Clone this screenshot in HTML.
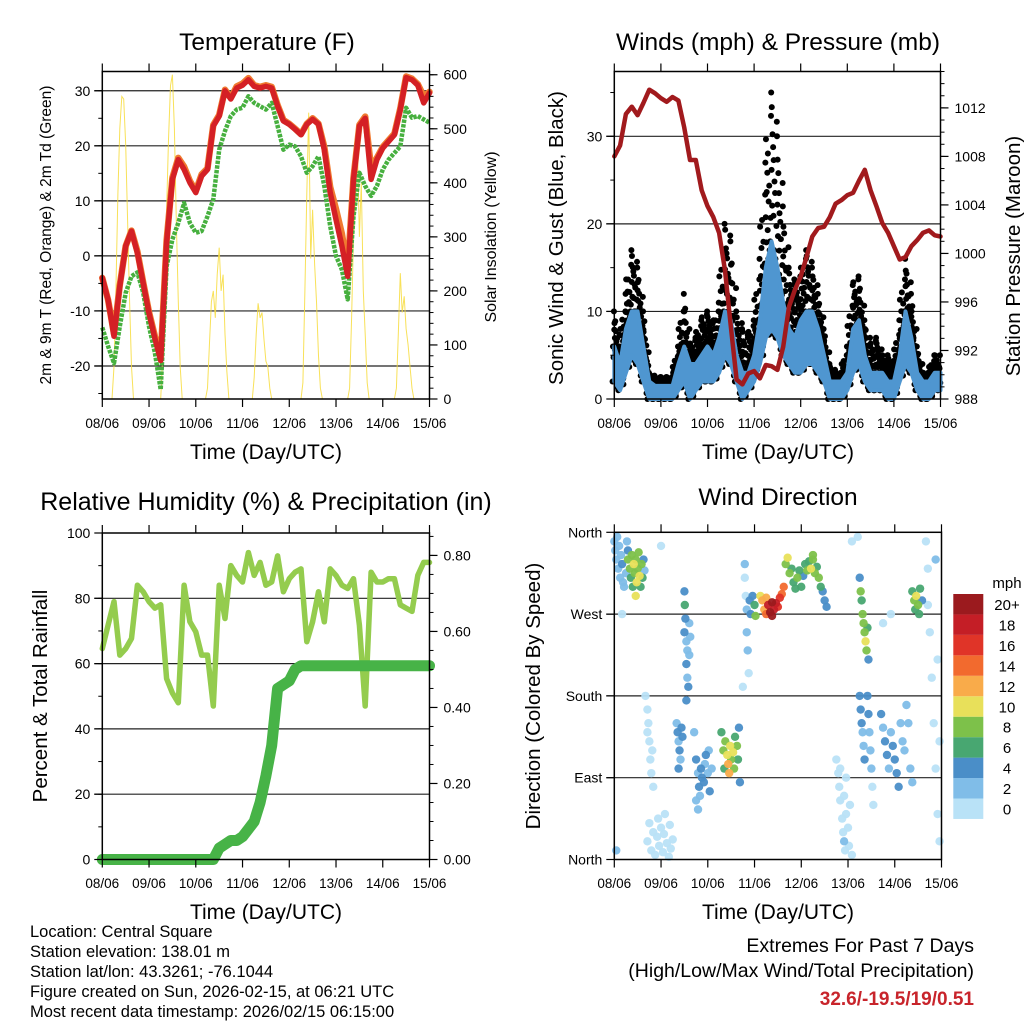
<!DOCTYPE html>
<html><head><meta charset="utf-8"><style>
html,body{margin:0;padding:0;background:#fff;}
svg{display:block;font-family:"Liberation Sans",Arial,sans-serif;}
</style></head><body>
<svg id="chart" width="1024" height="1024" viewBox="0 0 1024 1024" xmlns="http://www.w3.org/2000/svg">
<rect x="0" y="0" width="1024" height="1024" fill="#fff"/>
</svg>
<script>
// ---------- DATA (3-hourly samples, hours 0..168) ----------
const hours3 = [0,3,6,9,12,15,18,21,24,27,30,33,36,39,42,45,48,51,54,57,60,63,66,69,72,75,78,81,84,87,90,93,96,99,102,105,108,111,114,117,120,123,126,129,132,135,138,141,144,147,150,153,156,159,162,165,168];
const dayLabels = ["08/06","09/06","10/06","11/06","12/06","13/06","14/06","15/06"];
const tempRed = [-4,-8,-14.6,-5.5,1.8,4.5,0.5,-5,-10.4,-15,-19,2.4,13.9,17.5,15.7,13.3,11.5,14.5,15.7,23.6,25.4,30,28.5,30.5,31,32,30.8,30.5,30.8,30.5,27.2,24.5,23.9,23,22,23.9,24.8,23.9,19.3,11.5,6.6,1.8,-3.7,13.9,23.6,25,13.9,17.5,19.6,20.8,22,26.6,32.4,32,31,27.8,29.6];
const tempOrange = [-4,-8,-14.2,-5.3,1.8,4.6,0.8,-4.8,-10.2,-14.6,-18.5,2.8,14.2,17.8,16.2,13.6,11.8,14.8,15.9,23.8,25.6,30.2,28.7,30.8,31.3,32.3,31,30.7,31,30.7,27.4,24.7,24,23.1,22.1,24,25,24,19.8,12.5,8.5,4,-2.5,14.2,23.8,25.3,16,17.8,19.8,21,22.2,26.8,32.6,32.2,31.2,29,29.8];
const dewGreen = [-13,-16.4,-19.5,-12.8,-6.7,-3.7,-3,-6.7,-12.8,-17.6,-24.3,-1.9,3,6,9.6,6,4.2,4.5,7.2,10.3,19.3,22.7,25.4,26.6,26.9,29,27.8,27.2,26.6,27.8,23.6,19.3,20.2,19.9,18.1,15.1,16.3,18.1,12.7,5.4,0,-2.5,-7.9,7.2,15.1,12.7,10.9,12.7,15.7,17.5,18.7,19.9,26.9,25.1,25.4,24.8,24.2];
const solarHours = [0,5,6,7,8,9,10,11,12,13,14,15,16,30,31,32,33,34,35,36,37,38,39,40,41,53,54,55,56,57,58,59,60,61,62,63,64,65,77,78,79,80,81,82,83,84,85,86,87,102,103,104,105,106,107,108,109,110,111,112,113,126,127,128,129,130,131,132,133,134,135,136,137,150,151,152,153,154,155,156,157,158,159,160,168];
const solarValues = [0,0,60,200,380,500,560,555,470,330,180,60,0,0,80,200,350,480,580,600,500,330,180,60,0,0,20,100,180,200,150,230,280,200,230,120,50,0,0,40,120,177,150,160,110,70,60,20,0,0,30,200,380,530,260,350,250,180,80,20,0,0,20,150,300,370,470,300,400,200,120,30,0,0,20,120,233,160,190,130,100,60,20,0,0];
const pressure = [1008,1008.9,1011.5,1012.1,1011.4,1012.4,1013.5,1013.2,1012.8,1012.5,1012.9,1012.6,1010.4,1007.7,1007.7,1005.2,1003.9,1003,1001.7,998.6,994,989.6,989.2,990.1,990.3,989.7,990.8,990.7,990.4,992.3,995.6,997,998.1,999.7,1001.4,1002.1,1002.2,1003,1004.1,1004.4,1004.8,1005,1006,1006.9,1005.2,1003.9,1002.5,1001.7,1000.6,999.5,999.7,1000.6,1001.1,1001.7,1001.9,1001.5,1001.4];
const windLo = [2,1,3,5,4,2,0,0,0,0,0,1,2,0,1,2,2,2,3,5,4,2,0,1,2,4,7,8,7,5,4,3,3,4,4,3,2,0,0,0,1,3,4,2,1,1,1,0,0,2,4,3,1,0,0,1,1];
const windHi = [6,4,8,10,10,6,2,1.5,1.5,1.5,1.5,4,6,4,4,5,6,5,7,10,9,5,3,3,5,9,15,18,15,11,8,7,9,10,10,8,5,2,2,2,3,8,9,5,3,3,3,2,2,5,10,7,3,2,2,3,3];
const gustHi = [10,6,12,17,15,10,3,2.5,2.5,2.5,2.5,6,12,6,7,9,10,8,11,20,18,10,8,7,9,16,27,35,30,22,15,13,14,17,15,12,8,4,3,3,6,13,14,9,6,7,5,5,4,9,16,12,6,3,3,5,5];
const relHum = [64.6,71.8,79,62.6,64.6,67.7,84,82,79,77,78,55.4,51,48,84,72.8,69.7,62.6,62.6,47,84,73.8,90,87,85,94,87,91,84,85,93,82,86,88,89,66.7,72.8,82,72.8,89,87,84,83,86,71.8,47,88,85,85,86,86,78,77,76,87,91,91];
const precip = [0,0,0,0,0,0,0,0,0,0,0,0,0,0,0,0,0,0,0,0,0.03,0.04,0.05,0.05,0.06,0.08,0.10,0.15,0.22,0.30,0.45,0.46,0.47,0.50,0.51,0.51,0.51,0.51,0.51,0.51,0.51,0.51,0.51,0.51,0.51,0.51,0.51,0.51,0.51,0.51,0.51,0.51,0.51,0.51,0.51,0.51,0.51];
const dirHour = [0,0.5,1,1.5,2,2.5,3,3.5,4,4.5,5,6,6.5,7, 7,8,8.5,9,9.5,10,10.5,11,11.5,12,12.5,13,13.5,14,14.5,15,15.5,11, 17,18,19,20,21,22,22.5,23,24,25,25.5,26,27,28,28.5,29,30, 16,17,17.5,18,18.5,19,19.5,20,17, 36,36.2,36.5,36,37,37.5,37,37.5,38,37,38.5,39,38.5, 32,32.5,33,33.5,34,34.5,33,35, 41,42,43,43.5,44,44.5,45,46,46.5,47,48,48.5,49,50,42,43, 55,56,56.5,57,58,58.5,59,59.5,60,61,61.5,62,63,63.5,64,64.5, 67,67,67.5,68,68,68.5,69, 69.5,70,71,72,72.5, 75,76,77,78,79,80,81,82,83,84,85,86,87,78,81, 88,89,90,91,92,93,94,95,96,97,98,99,100,101,102,103,104,105,106,107,108,109,102, 114,115,115.5,116,117,117.5,118,118.5,119,120,120.5,121,122,116,119,118, 126,126.5,127,127.5,128,128.5,129,129.5,130,130.5, 126,126.5,127,127.5,128,128.5,130,130.5,131,131.5,132,132.5,133, 137,138,139,140,141,142,143,144,145,146,147,148,149,150,151,152,153, 153,154,154.5,155,156,156.5,157,158, 160,161,162,163,164,165,166,167,161,165,166,167, 1,24,4,66,122,142,138,125];
const dirDeg = [350,340,330,355,320,345,310,335,325,305,300,315,350,340, 330,320,310,335,300,325,315,330,305,320,338,312,300,325,310,330,318,290, 20,40,10,30,5,25,45,15,35,8,28,50,18,3,38,12,22, 180,165,150,130,110,95,120,80,140, 295,280,265,250,240,230,215,200,190,175,260,245,225, 150,140,130,120,110,145,100,135, 140,110,95,80,70,100,90,85,105,115,95,120,75,100,65,55, 140,120,100,130,115,105,95,125,110,118,100,135,125,110,145,85, 325,310,290,275,250,230,205, 285,270,290,280,268, 290,285,275,270,280,272,268,275,282,278,288,292,300,288,283, 325,332,315,320,305,298,310,318,300,312,325,318,328,320,330,315,322,310,300,295,285,278,335, 110,95,80,65,45,30,20,10,50,35,15,60,5,100,90,70, 310,295,285,270,260,250,240,230,255,220, 180,165,150,140,125,110,180,160,140,120,100,80,60, 160,145,130,115,100,140,125,110,95,80,150,130,120,170,150,100,85, 295,285,275,290,280,270,298,285, 350,320,250,200,150,100,50,20,280,330,220,130, 10,345,270,190,350,270,260,355];
const dirSpeed = [3,2,3,2,2,3,3,2,4,2,2,3,2,4, 8,8,6,8,7,10,8,8,10,8,8,10,6,8,7,4,3,10, 0,1,0,0,0,1,0,0,1,0,0,0,1,0,0,0,0, 0,1,0,0,1,0,0,1,0, 4,6,4,5,3,2,4,3,4,4,2,2,3, 3,4,3,4,3,4,4,5, 3,4,3,4,3,4,5,4,3,4,2,3,4,3,2,2, 6,8,6,8,10,12,12,10,8,10,8,6,8,6,4,4, 2,1,1,2,2,2,1, 4,4,4,6,8, 10,12,12,14,18,20,20,18,18,16,16,14,14,12,20, 8,10,8,6,6,6,8,6,6,4,6,8,6,10,8,8,6,8,6,4,4,4,8, 1,0,0,0,1,0,2,0,0,1,0,0,0,0,1,0, 4,8,6,8,8,8,10,8,6,4, 4,4,4,2,2,4,4,4,2,2,2,1,1, 4,2,4,4,2,2,4,4,4,4,2,2,2,2,2,2,2, 6,8,6,10,8,6,6,4, 0,1,0,1,0,0,0,0,0,2,0,1, 3,0,0,0,0,1,0,0];
const speedColors = ["#b9e2f7","#80bde8","#4a8ec8","#48a771","#7dc14a","#e8e05a","#f9ab4a","#f26a2e","#e03428","#c41e26","#9b1a1e"];
const speedLabels = ["0","2","4","6","8","10","12","14","16","18","20+"];

// ---------- HELPERS ----------
const NS = "http://www.w3.org/2000/svg";
const svg = document.getElementById('chart');
function mk(tag, attrs, parent) {
  const e = document.createElementNS(NS, tag);
  for (const k in attrs) e.setAttribute(k, attrs[k]);
  (parent || svg).appendChild(e);
  return e;
}
function txt(str, x, y, size, anchor, parent, extra) {
  const t = mk('text', Object.assign({x: x, y: y, 'font-size': size, 'text-anchor': anchor || 'middle', fill: '#000'}, extra || {}), parent);
  t.textContent = str;
  return t;
}
function panel(x0, x1, y0, y1, yl0, yl1, yr0, yr1) {
  return {x0, x1, y0, y1,
    sx: h => x0 + h / 168 * (x1 - x0),
    sy: v => y1 - (v - yl0) / (yl1 - yl0) * (y1 - y0),
    sr: v => y1 - (v - yr0) / (yr1 - yr0) * (y1 - y0)};
}
function pts(p, xs, ys, scale) { return xs.map((h, i) => p.sx(h).toFixed(1) + ',' + scale(ys[i]).toFixed(1)).join(' '); }

function frameAndAxes(p, name, opts) {
  const g = mk('g', {});
  
  
  opts.grid.forEach(v => {
    const l = mk('line', {x1: p.x0 - 8, x2: p.x1, y1: p.sy(v), y2: p.sy(v), stroke: '#222', 'stroke-width': 1.2}, g);
    
    
  });
  return g;
}
function drawTicks(p, name, opts, tickY) {
  const g = mk('g', {});
  
  
  mk('rect', {x: p.x0, y: p.y0, width: p.x1 - p.x0, height: p.y1 - p.y0, fill: 'none', stroke: '#000', 'stroke-width': 1.5}, g);
  for (let d = 0; d <= 7; d++) {
    const x = p.sx(d * 24);
    mk('line', {x1: x, x2: x, y1: p.y0, y2: p.y0 - 8, stroke: '#000', 'stroke-width': 1.2}, g);
    mk('line', {x1: x, x2: x, y1: p.y1, y2: p.y1 + 8, stroke: '#000', 'stroke-width': 1.2}, g);
    const t = txt(dayLabels[d], x, tickY, 13.5, 'middle', g);
    
    
  }
  opts.leftMinor.forEach(v => mk('line', {x1: p.x0, x2: p.x0 - 4, y1: p.sy(v), y2: p.sy(v), stroke: '#000', 'stroke-width': 1}, g));
  opts.leftMajor.forEach((v, i) => {
    mk('line', {x1: p.x0, x2: p.x0 - 8, y1: p.sy(v), y2: p.sy(v), stroke: '#000', 'stroke-width': 1.2}, g);
    const t = txt(opts.leftLabels[i], p.x0 - 12, p.sy(v) + 5, 14, 'end', g);
    
    
  });
  if (opts.rightMajor) {
    opts.rightMinor.forEach(v => mk('line', {x1: p.x1, x2: p.x1 + 4, y1: p.sr(v), y2: p.sr(v), stroke: '#000', 'stroke-width': 1}, g));
    opts.rightMajor.forEach((v, i) => {
      mk('line', {x1: p.x1, x2: p.x1 + 8, y1: p.sr(v), y2: p.sr(v), stroke: '#000', 'stroke-width': 1.2}, g);
      const t = txt(opts.rightLabels[i], p.x1 + 14, p.sr(v) + 5, 14, 'start', g);
      
      
    });
  }
}
function range(a, b, s) { const r = []; for (let v = a; v <= b + 1e-9; v += s) r.push(+v.toFixed(4)); return r; }

// ---------- PANEL 1: TEMPERATURE ----------
const p1 = panel(102.3, 429.5, 71.5, 399, -26, 33.5, 0, 606);
frameAndAxes(p1, 'temperature', {grid: [-20, -10, 0, 10, 20, 30]});
const solarLine = mk('polyline', {points: pts(p1, solarHours, solarValues, p1.sr), fill: 'none', stroke: '#f7dc3c', 'stroke-width': 1, 'stroke-opacity': 0.85});


const orangeLine = mk('polyline', {points: pts(p1, hours3, tempOrange, p1.sy), fill: 'none', stroke: '#f07a30', 'stroke-width': 6.5, 'stroke-linejoin': 'round', 'stroke-linecap': 'round'});


const dewLine = mk('polyline', {points: pts(p1, hours3, dewGreen, p1.sy), fill: 'none', stroke: '#47b03f', 'stroke-width': 4.5, 'stroke-dasharray': '3.5 1.2', 'stroke-linejoin': 'round'});


const redLine = mk('polyline', {points: pts(p1, hours3, tempRed, p1.sy), fill: 'none', stroke: '#d42025', 'stroke-width': 5.5, 'stroke-linejoin': 'round', 'stroke-linecap': 'round'});


drawTicks(p1, 'temperature', {leftMajor: [-20, -10, 0, 10, 20, 30], leftLabels: ["-20","-10","0","10","20","30"], leftMinor: range(-25, 30, 5),
  rightMajor: [0, 100, 200, 300, 400, 500, 600], rightLabels: ["0","100","200","300","400","500","600"], rightMinor: range(0, 600, 20)}, 428);

// ---------- PANEL 2: WINDS ----------
const p2 = panel(614.3, 940.5, 71.5, 399, 0, 37.4, 988, 1015);
frameAndAxes(p2, 'winds', {grid: [10, 20, 30]});
const gustG = mk('g', {fill: '#000'});


const fracs = [0, 0.12, 0.25, 0.38, 0.5, 0.62, 0.74, 0.86, 1];
const offs = [-0.9, 0.7, -0.4, 0.9, -0.7, 0.3, 0, 0.5, -0.2];
for (let i = 0; i < hours3.length - 1; i++) {
  for (let k = 0; k < 3; k++) {
    const t = k / 3;
    const h = hours3[i] + k;
    const lo = windLo[i] + (windLo[i + 1] - windLo[i]) * t;
    const hi = gustHi[i] + (gustHi[i + 1] - gustHi[i]) * t;
    const wh = windHi[i] + (windHi[i + 1] - windHi[i]) * t;
    fracs.forEach((f, j) => {
      const v = f < 0.5 ? lo + (wh + 1.5 - lo) * f * 2 : wh + (hi - wh) * (f - 0.5) * 2;
      const c = mk('circle', {cx: p2.sx(h + offs[(j + k) % offs.length]), cy: p2.sy(v), r: 3}, gustG);
      
      
    });
  }
}
const bandPts = pts(p2, hours3, windHi, p2.sy) + ' ' + pts(p2, hours3.slice().reverse(), windLo.slice().reverse(), p2.sy);
const windBand = mk('polygon', {points: bandPts, fill: '#4f96d0', stroke: '#4f96d0', 'stroke-width': 4, 'stroke-linejoin': 'round'});


const presLine = mk('polyline', {points: pts(p2, hours3, pressure, p2.sr), fill: 'none', stroke: '#a11a1d', 'stroke-width': 4.5, 'stroke-linejoin': 'round', 'stroke-linecap': 'round'});


drawTicks(p2, 'winds', {leftMajor: [0, 10, 20, 30], leftLabels: ["0","10","20","30"], leftMinor: range(0, 35, 5),
  rightMajor: [988, 992, 996, 1000, 1004, 1008, 1012], rightLabels: ["988","992","996","1000","1004","1008","1012"], rightMinor: range(988, 1015, 1)}, 428);

// ---------- PANEL 3: RH & PRECIP ----------
const p3 = panel(102.3, 429.5, 533, 859.5, 0, 100, 0, 0.859);
frameAndAxes(p3, 'humidity', {grid: [20, 40, 60, 80]});
const rhLine = mk('polyline', {points: pts(p3, hours3, relHum, p3.sy), fill: 'none', stroke: '#94cc4e', 'stroke-width': 5.5, 'stroke-linejoin': 'round', 'stroke-linecap': 'round'});


const prLine = mk('polyline', {points: pts(p3, hours3, precip, p3.sr), fill: 'none', stroke: '#47b347', 'stroke-width': 11, 'stroke-linejoin': 'round', 'stroke-linecap': 'round'});


drawTicks(p3, 'humidity', {leftMajor: [0, 20, 40, 60, 80, 100], leftLabels: ["0","20","40","60","80","100"], leftMinor: range(0, 100, 10),
  rightMajor: [0, 0.2, 0.4, 0.6, 0.8], rightLabels: ["0.00","0.20","0.40","0.60","0.80"], rightMinor: range(0, 0.85, 0.05)}, 888);

// ---------- PANEL 4: WIND DIRECTION ----------
const p4 = panel(614.3, 941.5, 532.3, 859.5, 0, 360, 0, 1);
frameAndAxes(p4, 'direction', {grid: [90, 180, 270]});
const dirG = mk('g', {});


const order = dirHour.map((_, i) => i).sort((a, b) => dirSpeed[a] - dirSpeed[b]);
order.forEach(i => {
  const bin = Math.min(10, Math.floor(dirSpeed[i] / 2));
  const c = mk('circle', {cx: p4.sx(dirHour[i]), cy: p4.sy(dirDeg[i]), r: 4.2, fill: speedColors[bin], 'fill-opacity': 0.95}, dirG);
  
  
});
drawTicks(p4, 'direction', {leftMajor: [0, 90, 180, 270, 360], leftLabels: ["North","East","South","West","North"], leftMinor: []}, 888);

// colorbar
const cb = mk('g', {});


speedColors.forEach((c, i) => {
  const y = 798.5 - i * 20.45;
  const r = mk('rect', {x: 953.3, y: y, width: 30, height: 20.45, fill: c}, cb);
  
  
  const t = txt(speedLabels[i], 1007, y + 16, 15, 'middle', cb);
  
  
});
const mph = txt('mph', 1007, 588, 15, 'middle', cb);



// ---------- TITLES & LABELS ----------
function label(str, x, y, size, name, rot, anchor, fill, weight) {
  const extra = {};
  if (rot) extra.transform = 'rotate(-90 ' + x + ' ' + y + ')';
  if (weight) extra['font-weight'] = weight;
  if (fill) extra.fill = fill;
  const t = txt(str, x, y, size, anchor || 'middle', svg, extra);
  
  
  return t;
}
label('Temperature (F)', 267, 50, 24.5, 'temperature-title');
label('Winds (mph) & Pressure (mb)', 778, 50, 24.5, 'winds-title');
label('Relative Humidity (%) & Precipitation (in)', 266, 510, 25, 'humidity-title');
label('Wind Direction', 778, 505, 24.5, 'direction-title');
label('Time (Day/UTC)', 266, 459, 21, 'temperature-x-axis-title');
label('Time (Day/UTC)', 778, 459, 21, 'winds-x-axis-title');
label('Time (Day/UTC)', 266, 919, 21, 'humidity-x-axis-title');
label('Time (Day/UTC)', 778, 919, 21, 'direction-x-axis-title');
label('2m & 9m T (Red, Orange) & 2m Td (Green)', 51, 235, 15.5, 'temperature-y-axis-title', true);
label('Solar Insolation (Yellow)', 496, 237, 16, 'solar-y-axis-title', true);
label('Sonic Wind & Gust (Blue, Black)', 563, 238, 20.5, 'winds-y-axis-title', true);
label('Station Pressure (Maroon)', 1020, 256, 20.5, 'pressure-y-axis-title', true);
label('Percent & Total Rainfall', 47, 696, 20.5, 'humidity-y-axis-title', true);
label('Direction (Colored By Speed)', 540, 696, 20.5, 'direction-y-axis-title', true);
label('Location: Central Square', 30, 937, 16.5, 'location-text', false, 'start');
label('Station elevation: 138.01 m', 30, 957, 16.5, 'elevation-text', false, 'start');
label('Station lat/lon: 43.3261; -76.1044', 30, 977, 16.5, 'latlon-text', false, 'start');
label('Figure created on Sun, 2026-02-15, at 06:21 UTC', 30, 997, 16.5, 'created-text', false, 'start');
label('Most recent data timestamp: 2026/02/15 06:15:00', 30, 1017, 16.5, 'timestamp-text', false, 'start');
label('Extremes For Past 7 Days', 974, 952, 19.5, 'extremes-title', false, 'end');
label('(High/Low/Max Wind/Total Precipitation)', 974, 977, 19.5, 'extremes-subtitle', false, 'end');
label('32.6/-19.5/19/0.51', 974, 1005, 19, 'extremes-values', false, 'end', '#c8242b', 'bold');
</script>
</body></html>
